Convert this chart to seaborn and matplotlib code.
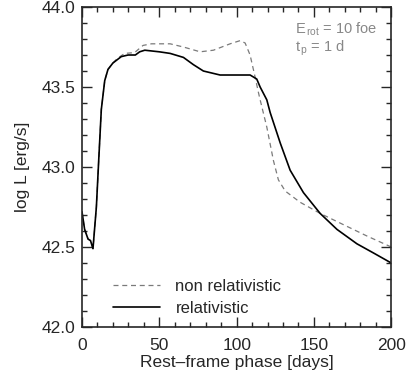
import matplotlib
matplotlib.use("Agg")
import matplotlib.pyplot as plt
import seaborn as sns
import pandas as pd
from matplotlib.ticker import MultipleLocator, FormatStrFormatter

# ------------------------ data -----------------
rel_days = [0, 1.7, 3.9, 5.5, 7.1, 9.3, 10.8, 12.5, 14.7, 16.8, 20, 25.4, 29.8,
            34.5, 37.3, 40.6, 50, 57, 65.6, 72, 78.5, 89.3, 100, 108.7, 113,
            115.2, 119.5, 121.7, 128.2, 134.6, 143.2, 154, 164.9, 177.8, 189, 200]
rel_logL = [42.72, 42.61, 42.55, 42.54, 42.49, 42.75, 43.04, 43.36, 43.54, 43.61,
            43.65, 43.69, 43.70, 43.70, 43.72, 43.73, 43.72, 43.71, 43.685, 43.64,
            43.60, 43.575, 43.575, 43.575, 43.55, 43.50, 43.42, 43.34, 43.15,
            42.98, 42.84, 42.71, 42.61, 42.52, 42.46, 42.40]

nonrel_days = [0, 1.7, 3.9, 5.5, 7.1, 9.3, 10.8, 12.5, 14.7, 16.8, 20, 23, 27.6,
               34, 39.5, 44.9, 57, 65.6, 76.4, 85, 95.8, 102.3, 105.5, 108.7, 112,
               114, 115.2, 119.5, 123.8, 127, 131.4, 141, 154, 169, 184, 200]
nonrel_logL = [42.72, 42.61, 42.55, 42.54, 42.49, 42.75, 43.04, 43.36, 43.54, 43.61,
               43.65, 43.68, 43.71, 43.715, 43.76, 43.77, 43.77, 43.75, 43.72, 43.73,
               43.77, 43.79, 43.775, 43.70, 43.56, 43.47, 43.42, 43.25, 43.04, 42.92,
               42.85, 42.78, 42.71, 42.64, 42.57, 42.50]

df = pd.concat([
    pd.DataFrame({"day": nonrel_days, "logL": nonrel_logL, "model": "non relativistic"}),
    pd.DataFrame({"day": rel_days, "logL": rel_logL, "model": "relativistic"}),
], ignore_index=True)

# ------------------------ style -------------------------------------
sns.set_style("ticks")
plt.rcParams["font.family"] = ["Liberation Sans", "DejaVu Sans"]
plt.rcParams["mathtext.fontset"] = "custom"
plt.rcParams["mathtext.rm"] = "Liberation Sans"
plt.rcParams["mathtext.it"] = "Liberation Sans"
plt.rcParams["xtick.direction"] = "in"
plt.rcParams["ytick.direction"] = "in"

fig = plt.figure(figsize=(4.11, 3.81), dpi=100)
ax = fig.add_axes([0.1995, 0.1417, 0.7525, 0.8399])

sns.lineplot(data=df, x="day", y="logL", hue="model", style="model",
             palette={"non relativistic": "#7a7a7a", "relativistic": "black"},
             dashes={"non relativistic": (4, 3), "relativistic": ""},
             size="model", sizes={"non relativistic": 0.9, "relativistic": 1.2},
             ax=ax, legend=True)

ax.set_xlim(0, 200)
ax.set_ylim(42.0, 44.0)
ax.xaxis.set_major_locator(MultipleLocator(50))
ax.xaxis.set_minor_locator(MultipleLocator(10))
ax.yaxis.set_major_locator(MultipleLocator(0.5))
ax.yaxis.set_minor_locator(MultipleLocator(0.1))
ax.yaxis.set_major_formatter(FormatStrFormatter("%.1f"))
ax.tick_params(which="both", top=True, right=True, width=1.0, labelsize=12.5)
ax.tick_params(axis="x", which="major", pad=8)
ax.tick_params(axis="y", which="major", pad=5)
ax.tick_params(which="major", length=7)
ax.tick_params(which="minor", length=3.5)
for sp in ax.spines.values():
    sp.set_linewidth(1.2)

ax.set_xlabel("Rest\u2013frame phase [days]", fontsize=12.5, labelpad=1)
ax.set_ylabel("log L [erg/s]", fontsize=12.5, labelpad=8)

ax.text(0.688, 0.9156, r"E$_{\,\rm rot}$ = 10 foe", transform=ax.transAxes,
        color="#888888", fontsize=10.5, ha="left", va="baseline")
ax.text(0.688, 0.860, r"t$_{\,\rm p}$ = 1 d", transform=ax.transAxes,
        color="#888888", fontsize=10.5, ha="left", va="baseline")

h, l = ax.get_legend_handles_labels()
ax.legend(h, l, loc="lower left", bbox_to_anchor=(0.10, 0.035), frameon=False,
          borderpad=0, borderaxespad=0,
          fontsize=12, handlelength=2.8, handletextpad=0.95, labelspacing=0.4)

fig.savefig("out.png", dpi=100)
